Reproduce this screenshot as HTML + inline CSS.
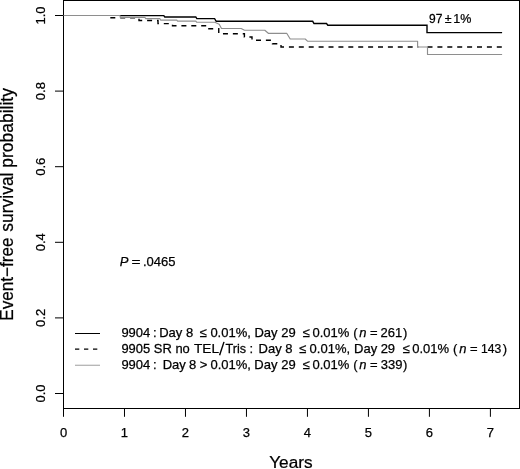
<!DOCTYPE html>
<html><head><meta charset="utf-8"><title>KM</title>
<style>
html,body{margin:0;padding:0;background:#fff;}
svg{display:block;will-change:transform;filter:grayscale(1);font-family:"Liberation Sans",sans-serif;}
text{fill:#000;stroke:#000;stroke-width:0.25px;}
</style></head><body>
<svg width="520" height="469" viewBox="0 0 520 469">
<rect width="520" height="469" fill="#fff"/>
<rect x="63.5" y="0.5" width="456.0" height="408.0" fill="none" stroke="#000" stroke-width="1"/>
<line x1="63.50" y1="408.5" x2="63.50" y2="416.8" stroke="#000" stroke-width="1"/>
<text x="63.50" y="436.9" font-size="13.0" text-anchor="middle">0</text>
<line x1="124.49" y1="408.5" x2="124.49" y2="416.8" stroke="#000" stroke-width="1"/>
<text x="124.49" y="436.9" font-size="13.0" text-anchor="middle">1</text>
<line x1="185.47" y1="408.5" x2="185.47" y2="416.8" stroke="#000" stroke-width="1"/>
<text x="185.47" y="436.9" font-size="13.0" text-anchor="middle">2</text>
<line x1="246.46" y1="408.5" x2="246.46" y2="416.8" stroke="#000" stroke-width="1"/>
<text x="246.46" y="436.9" font-size="13.0" text-anchor="middle">3</text>
<line x1="307.44" y1="408.5" x2="307.44" y2="416.8" stroke="#000" stroke-width="1"/>
<text x="307.44" y="436.9" font-size="13.0" text-anchor="middle">4</text>
<line x1="368.43" y1="408.5" x2="368.43" y2="416.8" stroke="#000" stroke-width="1"/>
<text x="368.43" y="436.9" font-size="13.0" text-anchor="middle">5</text>
<line x1="429.41" y1="408.5" x2="429.41" y2="416.8" stroke="#000" stroke-width="1"/>
<text x="429.41" y="436.9" font-size="13.0" text-anchor="middle">6</text>
<line x1="490.40" y1="408.5" x2="490.40" y2="416.8" stroke="#000" stroke-width="1"/>
<text x="490.40" y="436.9" font-size="13.0" text-anchor="middle">7</text>
<line x1="55" y1="393.50" x2="63.5" y2="393.50" stroke="#000" stroke-width="1"/>
<text transform="translate(45,393.50) rotate(-90)" font-size="13.0" text-anchor="middle">0.0</text>
<line x1="55" y1="317.90" x2="63.5" y2="317.90" stroke="#000" stroke-width="1"/>
<text transform="translate(45,317.90) rotate(-90)" font-size="13.0" text-anchor="middle">0.2</text>
<line x1="55" y1="242.30" x2="63.5" y2="242.30" stroke="#000" stroke-width="1"/>
<text transform="translate(45,242.30) rotate(-90)" font-size="13.0" text-anchor="middle">0.4</text>
<line x1="55" y1="166.70" x2="63.5" y2="166.70" stroke="#000" stroke-width="1"/>
<text transform="translate(45,166.70) rotate(-90)" font-size="13.0" text-anchor="middle">0.6</text>
<line x1="55" y1="91.10" x2="63.5" y2="91.10" stroke="#000" stroke-width="1"/>
<text transform="translate(45,91.10) rotate(-90)" font-size="13.0" text-anchor="middle">0.8</text>
<line x1="55" y1="15.50" x2="63.5" y2="15.50" stroke="#000" stroke-width="1"/>
<text transform="translate(45,15.50) rotate(-90)" font-size="13.0" text-anchor="middle">1.0</text>
<text transform="translate(12.9,320.70) rotate(-90) scale(0.9563,1)" font-size="17.9">Event−free</text>
<text transform="translate(12.9,231.69) rotate(-90) scale(0.9761,1)" font-size="17.9">survival probability</text>
<text transform="translate(269.22,468.3) scale(0.9958,1)" font-size="17.3">Years</text>
<path d="M120,15.6 L163.8,15.6 L164.8,17 L195.8,17 L196.8,18.6 L214.6,18.6 L216.2,21.3 L312.7,21.3 L314,23.5 L326.5,23.5 L327.8,25.2 L427,25.2 L427,32.6 L502.1,32.6" fill="none" stroke="#000" stroke-width="1.4"/>
<path d="M111,15.5 H111 V17.7 H139 V20.5 H158 V23.6 H172.5 V25.8 H208 V28.7 H218.75 V33.75 H244.4 V37 H252 V40.3 H272.5 V43.8 H281 V47.0 H502.1" fill="none" stroke="#000" stroke-width="1.4" stroke-dasharray="5 4.9" stroke-dashoffset="8.4"/>
<line x1="418.3" y1="47" x2="426.8" y2="47" stroke="#fff" stroke-width="2.4"/>
<path d="M63.5,15.5 L120,15.5 L120.3,17.4 L145,17.4 L145.6,18.6 L159.8,18.6 L160.6,20.1 L176.8,20.1 L177.6,21.1 L195.8,21.1 L196.6,22.2 L214.8,22.2 L219.2,24.3 L221.5,28.5 L241.2,28.5 L244.5,30.2 L264.8,30.2 L268.3,33.3 L286.7,33.3 L290.2,39 L305.2,39 L307.5,41.2 L417.6,41.2 L417.6,47 L427.5,47 L427.5,54.5 L502.1,54.5" fill="none" stroke="#8e8e8e" stroke-width="1.15" stroke-linejoin="round"/>
<line x1="219.6" y1="355.2" x2="224.0" y2="341.9" stroke="#000" stroke-width="1.4"/>
<line x1="75" y1="333.5" x2="100" y2="333.5" stroke="#000" stroke-width="1.05"/>
<line x1="75" y1="349.1" x2="100" y2="349.1" stroke="#000" stroke-width="1.05" stroke-dasharray="4.3 4.7"/>
<line x1="75" y1="365.25" x2="100" y2="365.25" stroke="#a2a2a2" stroke-width="1.05"/>
<text x="121.39" y="337.4" font-size="13.0">9904</text>
<text x="153.11" y="337.4" font-size="13.0">:</text>
<text x="159.23" y="337.4" font-size="13.0">Day</text>
<text x="186.04" y="337.4" font-size="13.0">8</text>
<text x="199.40" y="337.4" font-size="13.0">≤</text>
<text x="210.39" y="337.4" font-size="13.0">0.01%,</text>
<text x="254.43" y="337.4" font-size="13.0">Day</text>
<text x="281.35" y="337.4" font-size="13.0">29</text>
<text x="302.40" y="337.4" font-size="13.0">≤</text>
<text x="312.49" y="337.4" font-size="13.0">0.01%</text>
<text x="353.29" y="337.4" font-size="13.0">(</text>
<text x="359.18" y="337.4" font-size="13.0" font-style="italic">n</text>
<text x="369.97" y="337.4" font-size="13.0">=</text>
<text x="380.55" y="337.4" font-size="13.0">261</text>
<text x="402.92" y="337.4" font-size="13.0">)</text>
<text transform="translate(121.39,353.4) scale(0.9969,1)" font-size="13.0">9905 SR no</text>
<text transform="translate(193.99,353.4) scale(1.0511,1)" font-size="13.0">TEL</text>
<text transform="translate(225.62,353.4) scale(0.9715,1)" font-size="13.0">Tris</text>
<text x="249.41" y="353.4" font-size="13.0">:</text>
<text x="258.53" y="353.4" font-size="13.0">Day</text>
<text x="285.24" y="353.4" font-size="13.0">8</text>
<text x="298.90" y="353.4" font-size="13.0">≤</text>
<text x="309.59" y="353.4" font-size="13.0">0.01%,</text>
<text x="354.03" y="353.4" font-size="13.0">Day</text>
<text x="380.65" y="353.4" font-size="13.0">29</text>
<text x="402.40" y="353.4" font-size="13.0">≤</text>
<text x="412.29" y="353.4" font-size="13.0">0.01%</text>
<text x="452.89" y="353.4" font-size="13.0">(</text>
<text x="459.18" y="353.4" font-size="13.0" font-style="italic">n</text>
<text x="469.97" y="353.4" font-size="13.0">=</text>
<text x="502.82" y="353.4" font-size="13.0">)</text>
<text transform="translate(480.98,353.4) scale(0.9340,1)" font-size="13.0">143</text>
<text x="121.39" y="369.4" font-size="13.0">9904</text>
<text x="153.11" y="369.4" font-size="13.0">:</text>
<text x="162.73" y="369.4" font-size="13.0">Day</text>
<text x="189.04" y="369.4" font-size="13.0">8</text>
<text x="199.66" y="369.4" font-size="13.0">></text>
<text x="210.49" y="369.4" font-size="13.0">0.01%,</text>
<text x="254.33" y="369.4" font-size="13.0">Day</text>
<text x="281.35" y="369.4" font-size="13.0">29</text>
<text x="302.40" y="369.4" font-size="13.0">≤</text>
<text x="312.49" y="369.4" font-size="13.0">0.01%</text>
<text x="353.29" y="369.4" font-size="13.0">(</text>
<text x="359.18" y="369.4" font-size="13.0" font-style="italic">n</text>
<text x="369.97" y="369.4" font-size="13.0">=</text>
<text x="380.70" y="369.4" font-size="13.0">339</text>
<text x="402.92" y="369.4" font-size="13.0">)</text>
<text x="119.80" y="265.5" font-size="13.0" font-style="italic">P</text>
<text transform="translate(131.55,265.5) scale(1.1875,1)" font-size="13.0">=</text>
<text transform="translate(143.01,265.5) scale(1.0000,1)" font-size="13.0">.0465</text>
<text transform="translate(429.04,23) scale(0.9538,1)" font-size="12.6">97</text>
<text transform="translate(444.71,23) scale(0.9801,1)" font-size="12.6">±</text>
<text transform="translate(453.25,23) scale(0.9939,1)" font-size="12.6">1%</text>
</svg>
</body></html>
